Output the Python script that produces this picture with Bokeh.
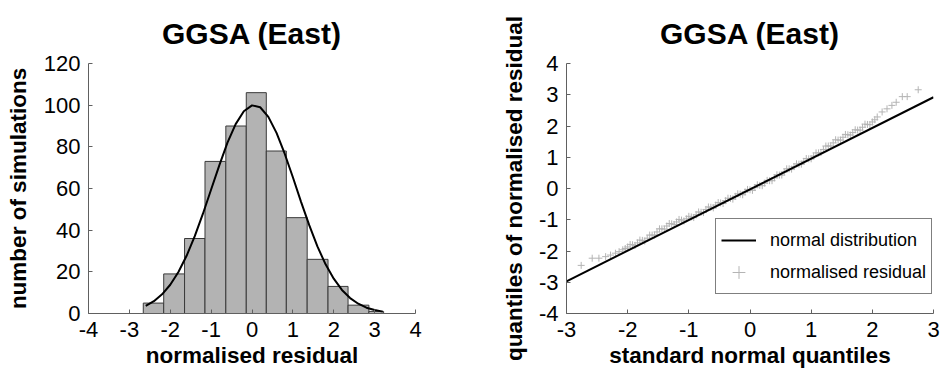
from bokeh.plotting import figure
from bokeh.models import Range1d, Legend, LegendItem, Label, FixedTicker, CustomJSTickFormatter
from bokeh.layouts import row
from bokeh.embed import file_html
from bokeh.resources import INLINE

# ---------------- data ----------------
# (a) histogram of normalised residuals
bin_edges = [-2.66, -2.16, -1.65, -1.15, -0.64, -0.14, 0.35, 0.84, 1.35, 1.86, 2.35, 2.86, 3.22]
bin_counts = [5, 19, 36, 73, 90, 106, 78, 46, 26, 13, 4, 1]

# fitted normal curve (as drawn)
curve_x = [-2.6, -2.4, -2.2, -2.0, -1.8, -1.6, -1.4, -1.2, -1.0, -0.8, -0.6, -0.4, -0.2, 0.0,
           0.2, 0.4, 0.6, 0.8, 1.0, 1.2, 1.4, 1.6, 1.8, 2.0, 2.2, 2.4, 2.6, 2.8, 3.0, 3.2]
curve_y = [3.7, 5.9, 9.2, 13.8, 19.9, 27.7, 37.1, 47.9, 59.5, 71.1, 82.0, 90.9, 97.1, 99.9,
           99.0, 94.4, 86.7, 76.7, 65.4, 53.6, 42.4, 32.2, 23.6, 16.7, 11.3, 7.4, 4.7, 2.8, 1.7, 0.9]

# (b) Q-Q plot
ref_line_x = [-3.0, 3.0]
ref_line_y = [-2.97, 2.92]

qq_x = [-2.76, -2.58, -2.47, -2.36, -2.28, -2.20, -2.14, -2.08, -2.04,
        -2.00, -1.92, -1.84, -1.76, -1.68, -1.60, -1.52, -1.44, -1.36, -1.28,
        -1.20, -1.12, -1.04, -0.96, -0.88, -0.80, -0.72, -0.64, -0.56, -0.48,
        -0.40, -0.32, -0.24, -0.16, -0.08, 0.00, 0.08, 0.16, 0.24, 0.32,
        0.40, 0.48, 0.56, 0.64, 0.72, 0.80, 0.88, 0.96, 1.04, 1.12,
        1.20, 1.28, 1.36, 1.44, 1.52, 1.60, 1.68, 1.76, 1.84, 1.92,
        2.00, 2.04, 2.08, 2.16, 2.24, 2.32, 2.39, 2.49, 2.57, 2.75,
        -1.96, -1.88, -1.80, -1.72, -1.64, -1.56, -1.48, -1.40, -1.32, -1.24,
        -1.16, -1.08, -1.00, -0.92, -0.84, -0.76, -0.68, -0.60, -0.52, -0.44,
        -0.36, -0.28, -0.20, -0.12, -0.04, 0.04, 0.12, 0.20, 0.28, 0.36,
        0.44, 0.52, 0.60, 0.68, 0.76, 0.84, 0.92, 1.00, 1.08, 1.16,
        1.24, 1.32, 1.40, 1.48, 1.56, 1.64, 1.72, 1.80, 1.88, 1.96]
qq_y = [-2.46, -2.23, -2.23, -2.18, -2.13, -2.07, -2.02, -1.96, -1.92,
        -1.87, -1.80, -1.74, -1.66, -1.59, -1.49, -1.39, -1.29, -1.20, -1.13,
        -1.07, -1.01, -0.97, -0.91, -0.84, -0.76, -0.67, -0.60, -0.53, -0.46,
        -0.39, -0.32, -0.25, -0.18, -0.11, -0.04, 0.03, 0.10, 0.17, 0.25,
        0.34, 0.43, 0.53, 0.63, 0.70, 0.78, 0.87, 0.95, 1.04, 1.14,
        1.25, 1.36, 1.46, 1.55, 1.64, 1.72, 1.79, 1.87, 1.96, 2.05,
        2.13, 2.20, 2.29, 2.45, 2.55, 2.66, 2.76, 2.94, 2.94, 3.16,
        -1.79, -1.82, -1.65, -1.68, -1.49, -1.49, -1.29, -1.30, -1.12, -1.15,
        -0.99, -1.04, -0.89, -0.93, -0.75, -0.77, -0.59, -0.62, -0.45, -0.48,
        -0.31, -0.34, -0.17, -0.20, -0.03, -0.06, 0.12, 0.09, 0.26, 0.25,
        0.44, 0.43, 0.63, 0.62, 0.79, 0.78, 0.96, 0.95, 1.14, 1.15,
        1.36, 1.36, 1.56, 1.55, 1.73, 1.71, 1.88, 1.87, 2.06, 2.04]

hist_xticks = [-4, -3, -2, -1, 0, 1, 2, 3, 4]
hist_yticks = [0, 20, 40, 60, 80, 100, 120]
qq_xticks = [-3, -2, -1, 0, 1, 2, 3]
qq_yticks = [-4, -3, -2, -1, 0, 1, 2, 3, 4]

# ---------------- styling ----------------
FONT = "Liberation Sans"
AXIS_COLOR = "#606060"


def style(p, xticks, yticks, ylabel_standoff):
    p.xgrid.visible = False
    p.ygrid.visible = False
    p.outline_line_color = None
    p.background_fill_color = "white"
    p.border_fill_color = "white"
    for ax in (p.xaxis[0], p.yaxis[0]):
        ax.axis_line_color = AXIS_COLOR
        ax.axis_line_width = 1
        ax.major_tick_line_color = AXIS_COLOR
        ax.major_tick_in = 4
        ax.major_tick_out = 0
        ax.minor_tick_line_color = None
        ax.formatter = CustomJSTickFormatter(code="return tick.toString();")
        ax.major_label_text_font = FONT
        ax.major_label_text_font_size = "22px"
        ax.major_label_text_color = "black"
        ax.major_label_standoff = 8
        ax.axis_label_text_font = FONT
        ax.axis_label_text_font_size = "22.5px"
        ax.axis_label_text_font_style = "bold"
        ax.axis_label_text_color = "black"
    p.xaxis[0].ticker = FixedTicker(ticks=xticks)
    p.yaxis[0].ticker = FixedTicker(ticks=yticks)
    p.xaxis[0].axis_label_standoff = 3
    p.yaxis[0].axis_label_standoff = ylabel_standoff
    p.title.text_font = FONT
    p.title.text_font_size = "30px"
    p.title.text_font_style = "bold"
    p.title.text_color = "black"
    p.title.align = "center"
    p.title.standoff = 28


# ---------------- (a) histogram ----------------
p1 = figure(width=455, height=381, output_backend="svg", toolbar_location=None,
            x_range=Range1d(-4, 4), y_range=Range1d(0, 120),
            title="GGSA (East)", x_axis_label="normalised residual",
            y_axis_label="number of simulations",
            min_border_left=88, min_border_right=40, min_border_top=57, min_border_bottom=68)
p1.quad(left=bin_edges[:-1], right=bin_edges[1:], bottom=0, top=bin_counts,
        fill_color="#b3b3b3", line_color="#3a3a3a", line_width=1)
p1.line(curve_x, curve_y, line_color="black", line_width=2)
style(p1, hist_xticks, hist_yticks, 10)
p1.title.offset = 5
p1.add_layout(Label(x=-84, y=-46, x_units="screen", y_units="screen", text="(a)",
                    text_font=FONT, text_font_size="24px", text_font_style="bold",
                    text_baseline="middle", text_color="black"))

# ---------------- (b) Q-Q plot ----------------
p2 = figure(width=492, height=381, output_backend="svg", toolbar_location=None,
            x_range=Range1d(-3, 3), y_range=Range1d(-4, 4),
            title="GGSA (East)", x_axis_label="standard normal quantiles",
            y_axis_label="quantiles of normalised residual",
            min_border_left=111, min_border_right=14, min_border_top=59, min_border_bottom=68)
pts = p2.scatter(qq_x, qq_y, marker="cross", size=7, line_color="#b4b4b4", line_width=1)
ln = p2.line(ref_line_x, ref_line_y, line_color="black", line_width=2)
style(p2, qq_xticks, qq_yticks, 9)
p2.title.offset = 3

legend = Legend(items=[LegendItem(label="normal distribution", renderers=[ln]),
                       LegendItem(label="normalised residual", renderers=[pts])],
                location=(149, 19), orientation="vertical",
                padding=5, spacing=0, margin=0,
                glyph_width=35, glyph_height=32, label_standoff=14,
                label_text_font=FONT, label_text_font_size="18px", label_text_color="black",
                border_line_color="black", border_line_width=1,
                background_fill_color="white", background_fill_alpha=1.0)
p2.add_layout(legend, "center")
p2.add_layout(Label(x=-106, y=-46, x_units="screen", y_units="screen", text="(b)",
                    text_font=FONT, text_font_size="24px", text_font_style="bold",
                    text_baseline="middle", text_color="black"))

layout = row(p1, p2)
open("out.html", "w").write(file_html(layout, INLINE))
